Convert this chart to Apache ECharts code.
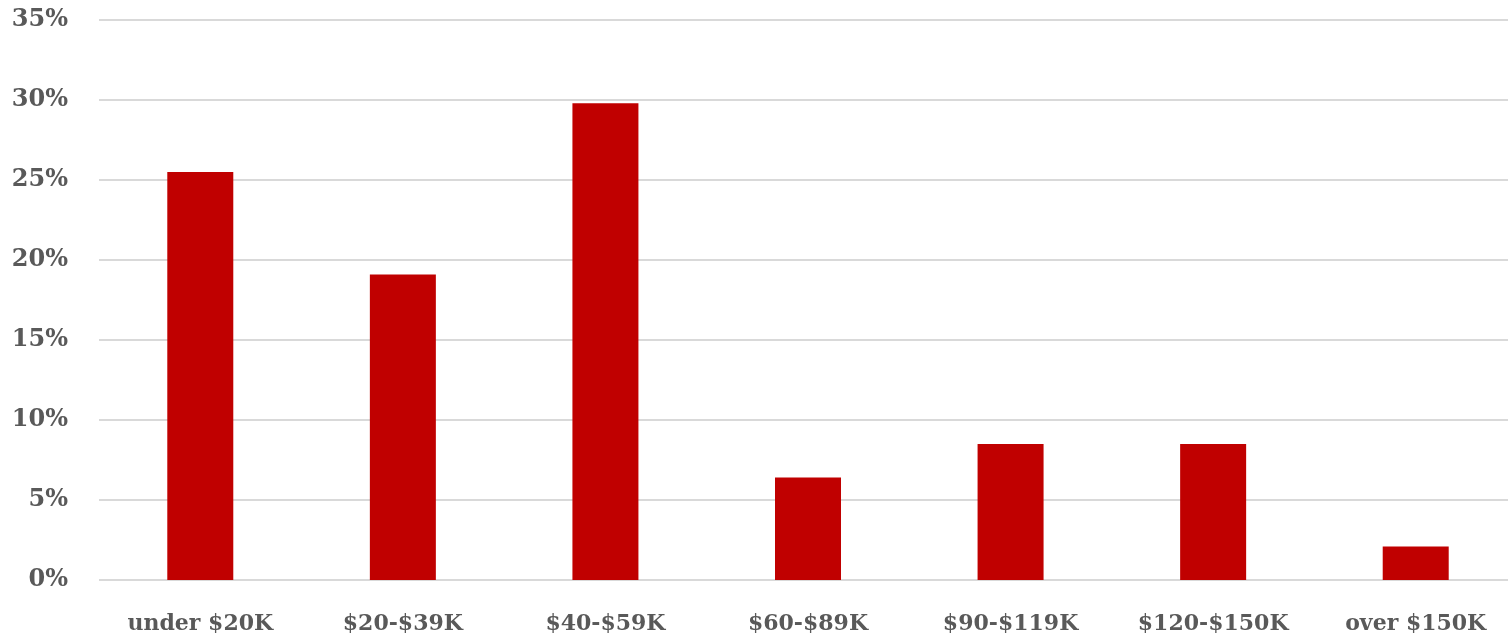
<!DOCTYPE html>
<html>
<head>
<meta charset="utf-8">
<script src="https://cdn.jsdelivr.net/npm/echarts@6/dist/echarts.min.js"></script>
<style>
  html, body { margin: 0; padding: 0; background: #ffffff; overflow: hidden; }
  #chart { width: 1520px; height: 637px; }
</style>
</head>
<body>
<div id="chart"></div>
<script>
// Household income brackets and share of respondents (%)
const categories = ['under $20K', '$20-$39K', '$40-$59K', '$60-$89K', '$90-$119K', '$120-$150K', 'over $150K'];
const shares = [25.5, 19.1, 29.8, 6.4, 8.5, 8.5, 2.1];
const yTicks = { min: 0, max: 35, step: 5 };

const textColor = '#595959';
const fontFamily = '"DejaVu Serif", serif';

const chart = echarts.init(document.getElementById('chart'), null, { renderer: 'canvas' });
chart.setOption({
  animation: false,
  backgroundColor: '#ffffff',
  grid: { left: 99, top: 20, width: 1418, height: 560, containLabel: false },
  xAxis: {
    type: 'category',
    data: categories,
    axisLine: { show: false },
    axisTick: { show: false },
    axisLabel: {
      color: textColor,
      fontFamily: fontFamily,
      fontWeight: 'bold',
      fontSize: 22,
      margin: 33,
      interval: 0
    }
  },
  yAxis: {
    type: 'value',
    min: yTicks.min,
    max: yTicks.max,
    interval: yTicks.step,
    axisLine: { show: false },
    axisTick: { show: false },
    splitLine: { lineStyle: { color: '#d9d9d9', width: 2 } },
    axisLabel: {
      color: textColor,
      fontFamily: fontFamily,
      fontWeight: 'bold',
      fontSize: 24,
      margin: 31,
      formatter: v => v + '%'
    }
  },
  series: [{
    type: 'bar',
    data: shares,
    barWidth: 66,
    itemStyle: { color: '#c00000' }
  }]
});
</script>
</body>
</html>
